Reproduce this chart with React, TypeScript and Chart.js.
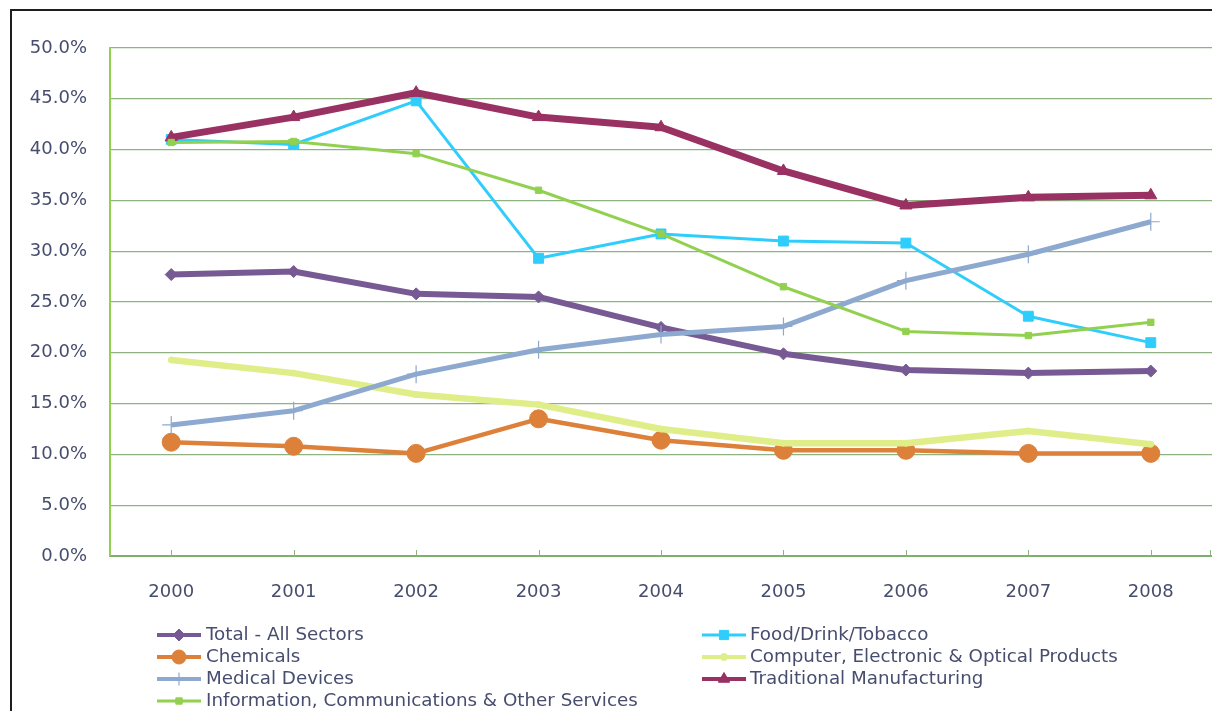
import React, { useEffect, useRef } from "react";
import { Chart, registerables } from "chart.js";
import { drawPoint } from "chart.js/helpers";

Chart.register(...registerables);

const years = ["2000", "2001", "2002", "2003", "2004", "2005", "2006", "2007", "2008"];
const totalAll = [27.7, 28.0, 25.8, 25.5, 22.5, 19.9, 18.3, 18.0, 18.2];
const foodDrink = [41.0, 40.5, 44.8, 29.3, 31.7, 31.0, 30.8, 23.6, 21.0];
const chemicals = [11.2, 10.8, 10.1, 13.5, 11.4, 10.4, 10.4, 10.1, 10.1];
const computer = [19.3, 18.0, 15.9, 14.9, 12.5, 11.1, 11.1, 12.3, 11.0];
const medical = [12.9, 14.3, 17.9, 20.3, 21.8, 22.6, 27.1, 29.7, 32.9];
const traditional = [41.2, 43.2, 45.6, 43.2, 42.2, 37.9, 34.5, 35.3, 35.5];
const infoComm = [40.7, 40.8, 39.6, 36.0, 31.7, 26.5, 22.1, 21.7, 23.0];

const seriesLabels = [
  "Total - All Sectors",
  "Food/Drink/Tobacco",
  "Chemicals",
  "Computer, Electronic & Optical Products",
  "Medical Devices",
  "Traditional Manufacturing",
  "Information, Communications & Other Services",
];

const TEXT = "#474d6e";
const FONT = "'DejaVu Sans', sans-serif";

type Style = {
  color: string;
  width: number;
  point: string;
  radius: number;
  pbw: number;
};

const styles: Style[] = [
  { color: "#775a93", width: 6, point: "rectRot", radius: 6, pbw: 1 },
  { color: "#2fcdfc", width: 3, point: "rect", radius: 7, pbw: 1 },
  { color: "#dd803a", width: 4.5, point: "circle", radius: 9, pbw: 1 },
  { color: "#dfee88", width: 6.5, point: "circle", radius: 3, pbw: 1 },
  { color: "#8da9cf", width: 5, point: "cross", radius: 9, pbw: 1.2 },
  { color: "#993163", width: 7, point: "triangle", radius: 7, pbw: 1 },
  { color: "#92d050", width: 3, point: "rect", radius: 4.5, pbw: 1 },
];

const dataArrays = [totalAll, foodDrink, chemicals, computer, medical, traditional, infoComm];

const framePlugin = {
  id: "frame",
  beforeDraw(chart: any) {
    const ctx = chart.ctx;
    ctx.save();
    ctx.fillStyle = "#ffffff";
    ctx.fillRect(0, 0, chart.width, chart.height);
    ctx.fillStyle = "#1e1e1e";
    ctx.fillRect(10, 9, 2, chart.height - 9);
    ctx.fillRect(10, 9, chart.width - 10, 2);
    ctx.restore();
  },
  afterDatasetsDraw(chart: any) {
    const ctx = chart.ctx;
    const x = chart.scales.x;
    const bottom = chart.chartArea.bottom;
    ctx.save();
    ctx.strokeStyle = "#8fb283";
    ctx.lineWidth = 1;
    const xs: number[] = [];
    for (let i = 0; i < years.length; i++) xs.push(Math.round(x.getPixelForValue(i)) + 0.5);
    xs.push(chart.chartArea.right - 1.5);
    xs.forEach((px) => {
      ctx.beginPath();
      ctx.moveTo(px, bottom);
      ctx.lineTo(px, bottom - 6);
      ctx.stroke();
    });
    ctx.restore();
  },
};

const legendPlugin = {
  id: "customLegend",
  afterDraw(chart: any) {
    const ctx = chart.ctx;
    const cols = [
      { lineX: 157, lineW: 44, textX: 206 },
      { lineX: 702, lineW: 44, textX: 750 },
    ];
    const rowY = [635, 657, 679, 701];
    ctx.save();
    seriesLabels.forEach((label, i) => {
      const c = cols[i % 2];
      const y = rowY[Math.floor(i / 2)];
      const s = styles[i];
      ctx.strokeStyle = s.color;
      ctx.fillStyle = s.color;
      ctx.lineWidth = Math.min(s.width, 4);
      ctx.lineCap = "butt";
      ctx.beginPath();
      ctx.moveTo(c.lineX, y);
      ctx.lineTo(c.lineX + c.lineW, y);
      ctx.stroke();
      ctx.lineWidth = s.pbw;
      drawPoint(
        ctx,
        {
          pointStyle: s.point as any,
          radius: s.point === "circle" && s.radius > 5 ? 7 : s.point === "circle" ? 3.5 : Math.min(s.radius, 6.5),
          rotation: 0,
          borderWidth: s.pbw,
        } as any,
        c.lineX + c.lineW / 2,
        y
      );
      ctx.fillStyle = TEXT;
      ctx.font = `18.3px ${FONT}`;
      ctx.textBaseline = "middle";
      ctx.textAlign = "left";
      ctx.fillText(label, c.textX, y);
    });
    ctx.restore();
  },
};

export default function App() {
  const ref = useRef<HTMLCanvasElement | null>(null);

  useEffect(() => {
    if (!ref.current) return;
    const datasets = dataArrays.map((d, i) => {
      const s = styles[i];
      return {
        label: seriesLabels[i],
        data: d,
        borderColor: s.color,
        backgroundColor: s.color,
        borderWidth: s.width,
        pointStyle: s.point,
        pointRadius: s.radius,
        pointBorderWidth: s.pbw,
        pointBorderColor: s.color,
        pointBackgroundColor: s.color,
        tension: 0,
        order: dataArrays.length - i,
        borderJoinStyle: "round" as const,
        clip: false as any,
      };
    });

    const chart = new Chart(ref.current, {
      type: "line",
      data: { labels: years, datasets },
      options: {
        responsive: false,
        animation: false,
        devicePixelRatio: 1,
        layout: { autoPadding: false, padding: { top: 48, right: 0, bottom: 0, left: 0 } },
        plugins: {
          legend: { display: false },
          tooltip: { enabled: false },
        },
        scales: {
          x: {
            offset: true,
            grid: { display: false, drawTicks: false },
            border: { display: true, color: "#7fae6f", width: 2 },
            ticks: {
              color: TEXT,
              font: { family: FONT, size: 18 },
              padding: 26,
              maxRotation: 0,
            },
            afterFit(scale: any) {
              scale.height = 155;
              scale.paddingLeft = 0;
              scale.paddingRight = 0;
            },
          },
          y: {
            min: 0,
            max: 50,
            grid: { color: "#8fb283", lineWidth: 1.2, drawTicks: false },
            border: { display: true, color: "#92d050", width: 2 },
            ticks: {
              stepSize: 5,
              color: TEXT,
              font: { family: FONT, size: 18 },
              padding: 23,
              callback: (v: any) => Number(v).toFixed(1) + "%",
            },
            afterFit(scale: any) {
              scale.width = 110;
            },
          },
        },
      },
      plugins: [framePlugin, legendPlugin],
    });
    return () => chart.destroy();
  }, []);

  return (
    <div style={{ position: "absolute", left: 0, top: 0, width: 1212, height: 711, overflow: "hidden", background: "#fff" }}>
      <canvas ref={ref} width={1212} height={711} style={{ display: "block", width: 1212, height: 711 }} />
    </div>
  );
}
